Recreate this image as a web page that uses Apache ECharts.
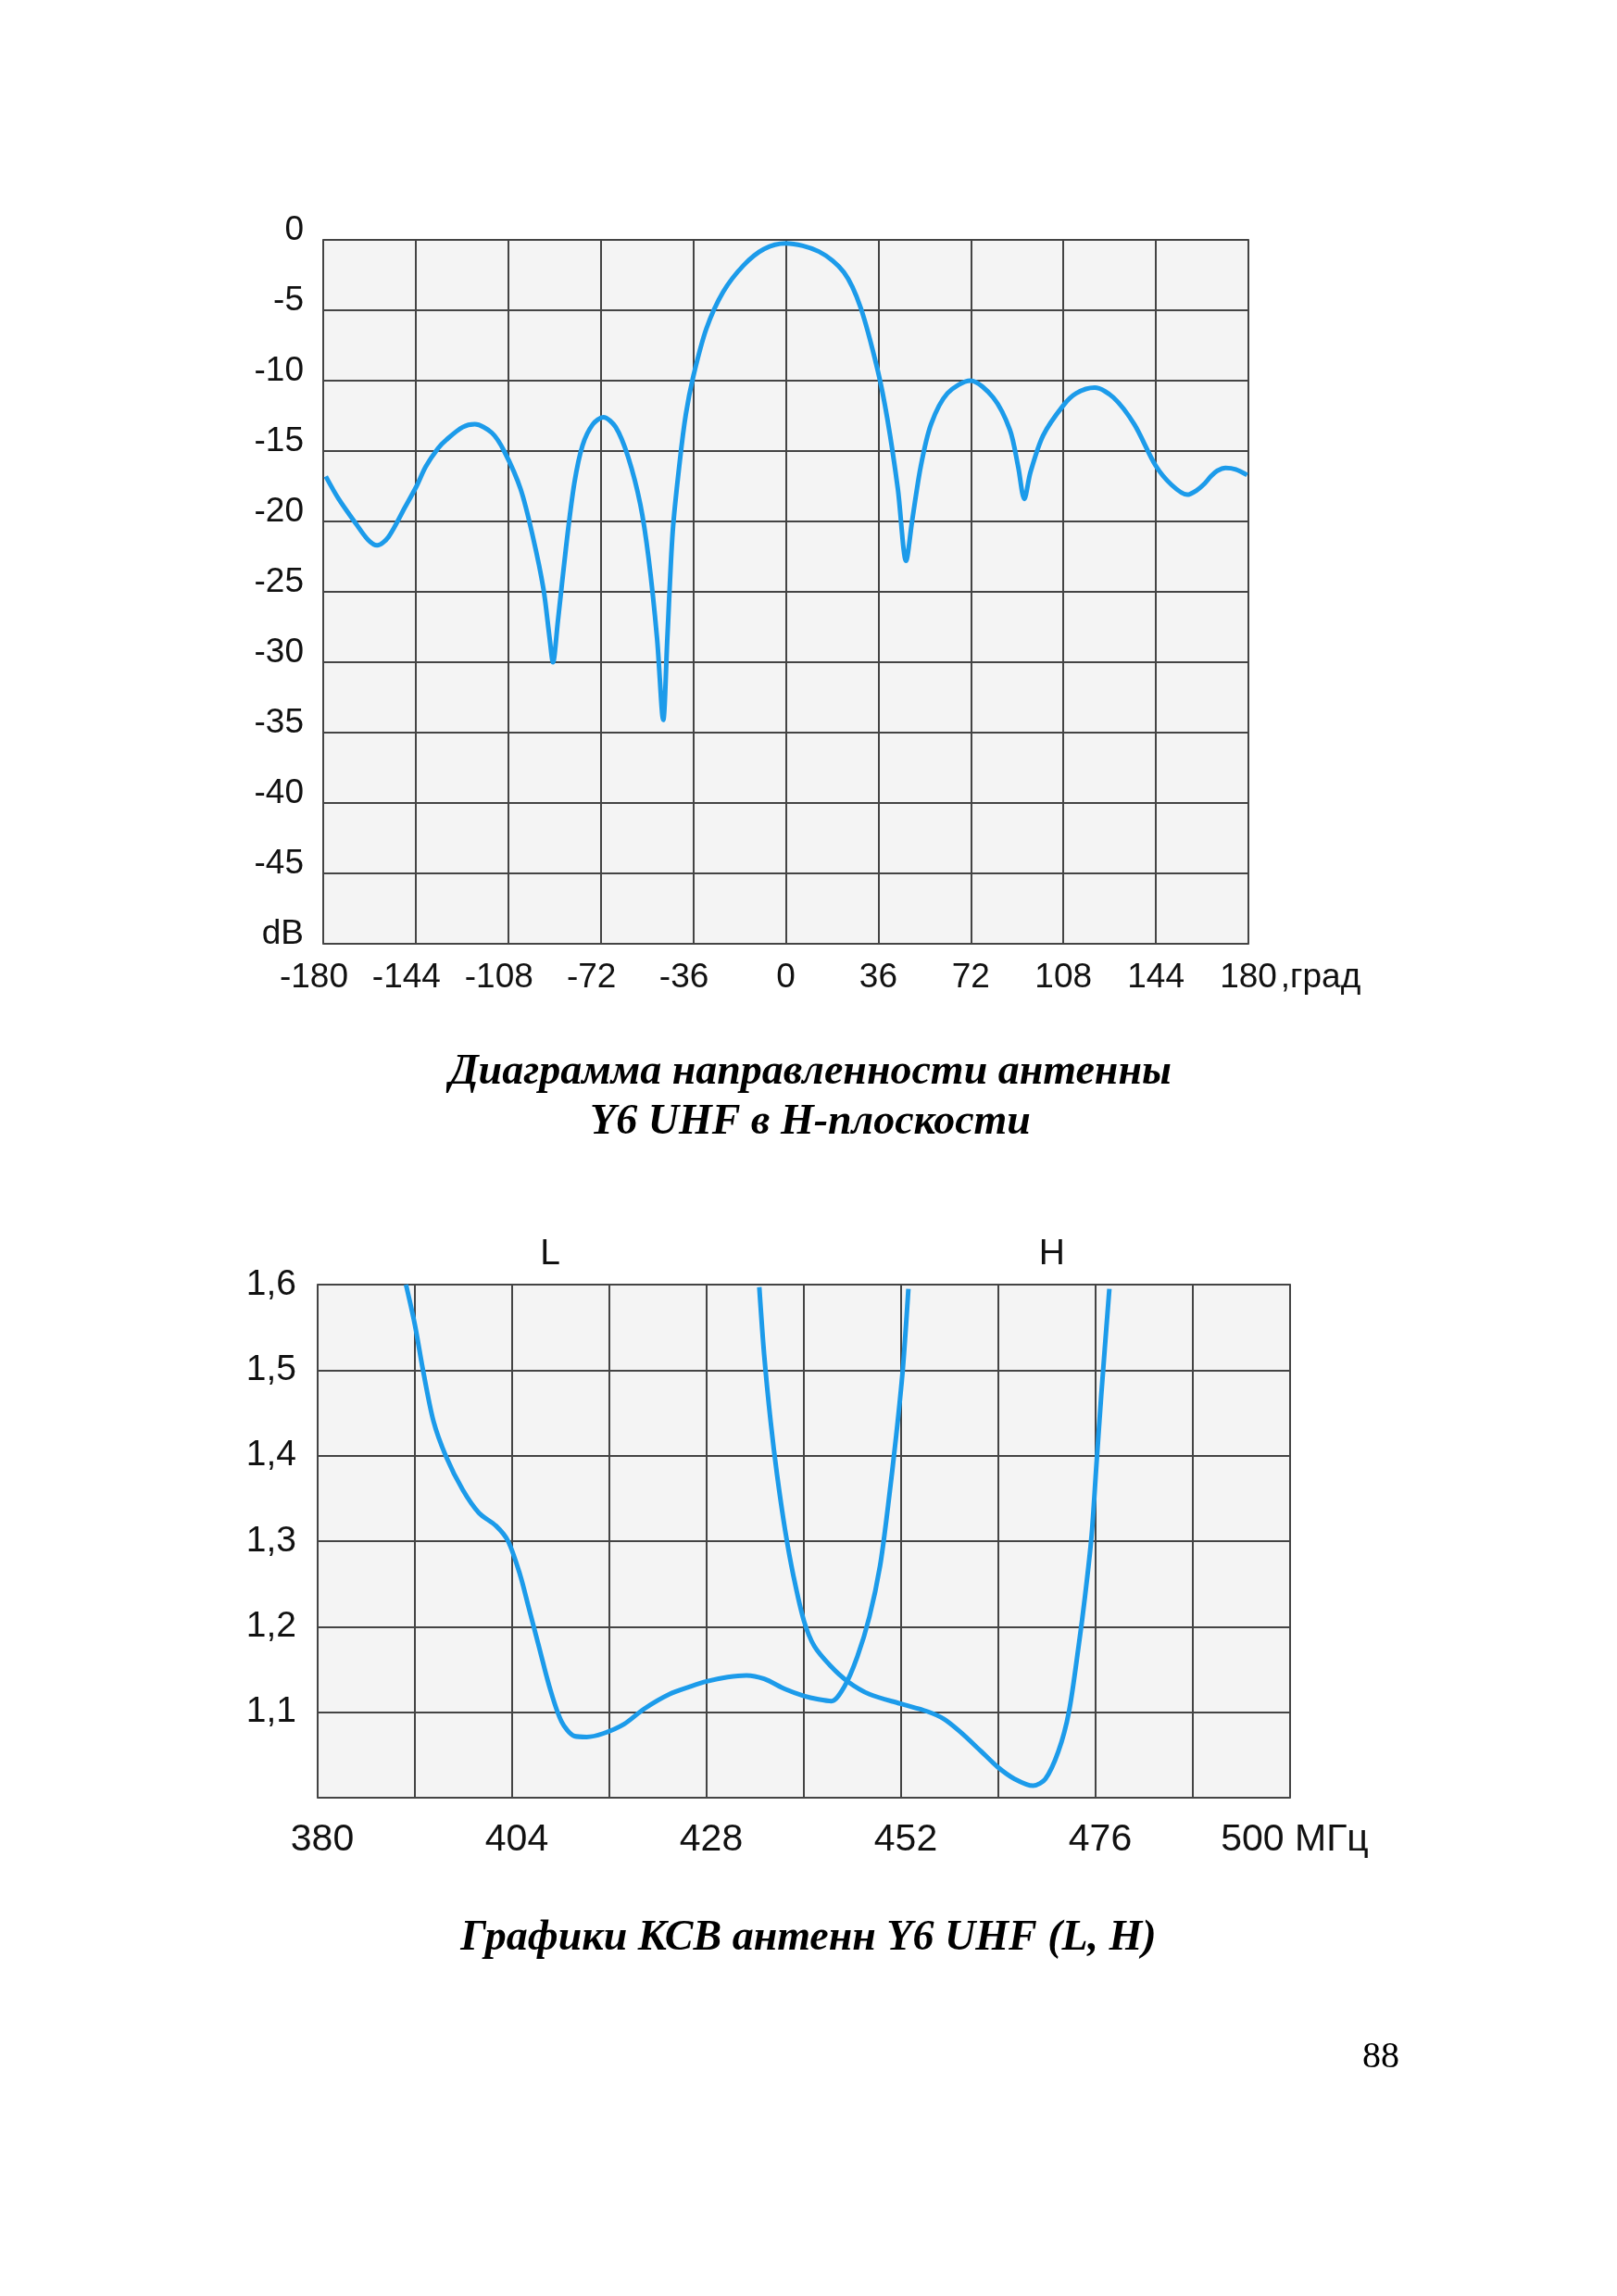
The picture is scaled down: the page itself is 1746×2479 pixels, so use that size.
<!DOCTYPE html>
<html>
<head>
<meta charset="utf-8">
<script src="https://cdn.jsdelivr.net/npm/echarts@6/dist/echarts.min.js"></script>
<style>
html,body{margin:0;padding:0;background:#ffffff;}
#c{width:1746px;height:2479px;}
</style>
</head>
<body>
<div id="c"></div>
<script>
// ---- Chart 1: radiation pattern in H-plane ----
const angleDeg = [-179, -174, -167.5, -162.6, -159, -154.6, -148.2, -143.7, -140.1, -135.3, -132.1, -125.7, -121, -114.4, -109.6, -103.2, -98.4, -94.3, -91.9, -90.6, -88.7, -85.5, -82.3, -79.1, -75.1, -71, -66.2, -61.4, -56.6, -53.4, -50.1, -47.7, -46.1, -44, -41.3, -38.9, -36, -30.9, -24.4, -16.4, -8.4, 0, 12.9, 22.6, 29.1, 35.8, 39.5, 43.6, 46.8, 49.2, 52.5, 56.5, 62.9, 71.8, 80.7, 87.2, 90.4, 92.8, 95.2, 100.1, 107.8, 113, 120.2, 127.5, 135.6, 143.8, 150.1, 156.2, 159.8, 163, 165.4, 167.9, 171.1, 175.1, 179.5];
const gainDb = [-16.8, -18.4, -20.1, -21.3, -21.7, -21.1, -19.0, -17.5, -16.1, -14.8, -14.2, -13.3, -13.1, -13.7, -15.0, -17.7, -21.1, -24.8, -28.3, -30.0, -27.1, -21.8, -17.3, -14.6, -13.1, -12.6, -13.3, -15.4, -18.8, -22.6, -28.3, -34.1, -28.3, -20.7, -15.8, -12.4, -9.7, -6.3, -3.7, -1.8, -0.64, -0.25, -0.83, -2.3, -4.8, -9.3, -12.7, -17.7, -22.8, -19.9, -16.1, -13.1, -10.9, -10.0, -11.2, -13.5, -16.1, -18.4, -16.5, -13.9, -11.8, -10.9, -10.5, -11.2, -13.1, -16.0, -17.4, -18.1, -17.8, -17.3, -16.8, -16.4, -16.2, -16.3, -16.7];

// ---- Chart 2: VSWR of L and H antennas ----
const freqL = [390.9, 392, 393, 394.3, 395.8, 397.9, 399.9, 402, 403.5, 405, 406, 407.3, 408.6, 410.1, 411.7, 413.2, 415.2, 417.8, 420.3, 423.4, 426, 428, 430.6, 432.9, 435.1, 437.7, 440, 441.8, 443.4, 445, 446.6, 448.1, 449.4, 450.4, 451.4, 452.2, 452.9];
const vswrL = [1.6, 1.553, 1.50, 1.44, 1.40, 1.36, 1.333, 1.318, 1.30, 1.26, 1.224, 1.177, 1.13, 1.089, 1.072, 1.071, 1.075, 1.086, 1.104, 1.121, 1.13, 1.136, 1.141, 1.143, 1.139, 1.127, 1.119, 1.115, 1.113, 1.13, 1.165, 1.212, 1.271, 1.342, 1.424, 1.50, 1.595];
const freqH = [434.5, 435.1, 435.9, 436.7, 437.7, 438.7, 440, 441.3, 443.3, 445.4, 448.1, 451.9, 455.2, 457.3, 459.3, 461.9, 463.9, 466, 468.3, 469.8, 471.4, 472.7, 473.9, 474.7, 475.5, 476.1, 476.7, 477.7];
const vswrH = [1.597, 1.518, 1.44, 1.377, 1.312, 1.26, 1.207, 1.177, 1.154, 1.136, 1.121, 1.11, 1.101, 1.092, 1.077, 1.054, 1.036, 1.022, 1.014, 1.022, 1.054, 1.10, 1.177, 1.236, 1.306, 1.389, 1.471, 1.595];

// tick values
const freqGridTicks = [380, 392, 404, 416, 428, 440, 452, 464, 476, 488, 500];
const freqLabelTicks = [380, 404, 428, 452, 476, 500];
const curveNames = ['L', 'H'];
const curveNameFreq = [408.7, 470.6];

const captionTop1 = 'Диаграмма направленности антенны';
const captionTop2 = 'Y6 UHF в H-плоскости';
const captionBottom = 'Графики КСВ антенн Y6 UHF (L, H)';
const pageNumber = '88';

const BLUE = '#1c9bea';
const GRID = '#444444';
const SANS = '"Liberation Sans", Arial, sans-serif';
const SERIF = '"Liberation Serif", "Times New Roman", serif';

const chart = echarts.init(document.getElementById('c'), null, {renderer: 'canvas'});

const option = {
  backgroundColor: '#ffffff',
  animation: false,
  grid: [
    {left: 349, top: 259, width: 999, height: 760, show: true, backgroundColor: '#f4f4f4', borderColor: '#6a6a6a', borderWidth: 2, containLabel: false},
    {left: 343, top: 1387, width: 1050, height: 554, show: true, backgroundColor: '#f4f4f4', borderColor: '#6a6a6a', borderWidth: 2, containLabel: false}
  ],
  xAxis: [
    {
      type: 'value', gridIndex: 0, min: -180, max: 180, interval: 36, position: 'bottom',
      axisLine: {show: false, onZero: false}, axisTick: {show: false},
      splitLine: {show: true, lineStyle: {color: GRID, width: 2}},
      axisLabel: {
        fontSize: 37, color: '#111', fontFamily: SANS, margin: 18,
        formatter: function (v) { return v < 0 ? '{n|' + v + '}' : '{p|' + v + '}'; },
        rich: {
          n: {fontSize: 37, color: '#111', fontFamily: SANS, padding: [0, 20, 0, 0]},
          p: {fontSize: 37, color: '#111', fontFamily: SANS}
        }
      },
      name: ',град', nameLocation: 'end', nameGap: 31,
      nameTextStyle: {fontSize: 37, color: '#111', fontFamily: SANS, verticalAlign: 'top', align: 'left', padding: [18, 0, 0, 0]}
    },
    {
      type: 'value', gridIndex: 1, min: 380, max: 500, position: 'bottom',
      axisLine: {show: false, onZero: false},
      axisTick: {show: false, customValues: freqGridTicks},
      splitLine: {show: true, lineStyle: {color: GRID, width: 2}},
      axisLabel: {
        customValues: freqLabelTicks,
        fontSize: 41, color: '#111', fontFamily: SANS, margin: 25, padding: [0, 0, 0, 10],
        formatter: function (v) { return v === 500 ? '500 МГц' : String(v); }
      }
    }
  ],
  yAxis: [
    {
      type: 'value', gridIndex: 0, min: -50, max: 0, interval: 5,
      axisLine: {show: false, onZero: false}, axisTick: {show: false},
      splitLine: {show: true, lineStyle: {color: GRID, width: 2}},
      axisLabel: {
        fontSize: 37, color: '#111', fontFamily: SANS, margin: 21,
        verticalAlign: 'bottom', lineHeight: 20,
        formatter: function (v) { return v === -50 ? 'dB' : String(v); }
      }
    },
    {
      type: 'value', gridIndex: 1, min: 1.0, max: 1.6, interval: 0.1,
      axisLine: {show: false, onZero: false}, axisTick: {show: false},
      splitLine: {show: true, lineStyle: {color: GRID, width: 2}},
      axisLabel: {
        fontSize: 39, color: '#111', fontFamily: SANS, margin: 23, padding: [0, 0, 8, 0],
        formatter: function (v) { return v < 1.05 ? '' : v.toFixed(1).replace('.', ','); }
      }
    }
  ],
  series: [
    {
      type: 'line', xAxisIndex: 0, yAxisIndex: 0, name: 'H-plane',
      data: angleDeg.map(function (a, i) { return [a, gainDb[i]]; }),
      smooth: 0.3, symbol: 'none', lineStyle: {color: BLUE, width: 5}
    },
    {
      type: 'line', xAxisIndex: 1, yAxisIndex: 1, name: 'L',
      data: freqL.map(function (f, i) { return [f, vswrL[i]]; }),
      smooth: 0.3, symbol: 'none', lineStyle: {color: BLUE, width: 5}
    },
    {
      type: 'line', xAxisIndex: 1, yAxisIndex: 1, name: 'H',
      data: freqH.map(function (f, i) { return [f, vswrH[i]]; }),
      smooth: 0.3, symbol: 'none', lineStyle: {color: BLUE, width: 5}
    }
  ]
};

chart.setOption(option);

const capFont = {fontFamily: SERIF, fontWeight: 'bold', fontStyle: 'italic', fontSize: 46, fill: '#000'};
const graphics = [
  {type: 'text', x: 875, y: 1158, style: Object.assign({text: captionTop1, align: 'center', verticalAlign: 'middle'}, capFont)},
  {type: 'text', x: 875, y: 1212, style: Object.assign({text: captionTop2, align: 'center', verticalAlign: 'middle'}, capFont)},
  {type: 'text', x: 873, y: 2093, style: Object.assign({text: captionBottom, align: 'center', verticalAlign: 'middle'}, capFont)},
  {type: 'text', x: 1491, y: 2221, style: {text: pageNumber, align: 'center', verticalAlign: 'middle', fontFamily: SERIF, fontSize: 40, fill: '#000'}}
];
curveNames.forEach(function (n, i) {
  const p = chart.convertToPixel({xAxisIndex: 1, yAxisIndex: 1}, [curveNameFreq[i], 1.6]);
  graphics.push({type: 'text', x: p[0], y: p[1] - 33, style: {text: n, align: 'center', verticalAlign: 'middle', fontFamily: SANS, fontSize: 39, fill: '#111'}});
});
chart.setOption({graphic: graphics});
</script>
</body>
</html>
